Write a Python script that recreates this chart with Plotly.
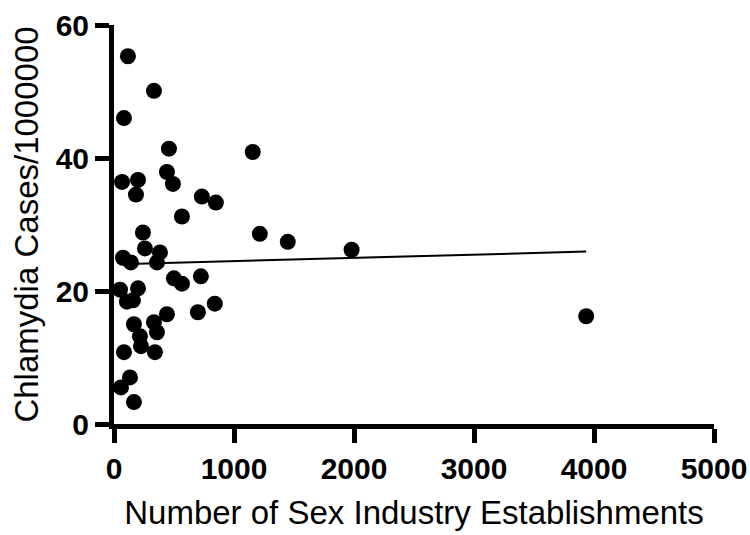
import plotly.graph_objects as go

# Number of sex industry establishments (x) and chlamydia cases per 1,000,000 (y)
establishments = [116, 333, 83, 458, 1156, 67, 200, 183, 441, 491, 732, 849, 566, 241,
                  1215, 1448, 258, 383, 75, 141, 358, 1980, 499, 566, 724, 50, 200, 108,
                  158, 441, 699, 840, 166, 333, 216, 358, 225, 83, 341, 133, 58, 166, 3935]
chlamydia = [55.3, 50.1, 46.0, 41.4, 40.9, 36.4, 36.7, 34.5, 37.9, 36.1, 34.2, 33.3, 31.2, 28.8,
             28.6, 27.4, 26.4, 25.8, 25.0, 24.3, 24.3, 26.2, 21.9, 21.1, 22.2, 20.2, 20.4, 18.4,
             18.6, 16.5, 16.8, 18.1, 15.0, 15.3, 13.2, 13.8, 11.7, 10.8, 10.8, 7.0, 5.5, 3.3, 16.2]

# Linear fit shown in the chart
fit_intercept = 24.0
fit_slope = 0.00049

x_ticks = [0, 1000, 2000, 3000, 4000, 5000]
y_ticks = [0, 20, 40, 60]

fit_x = [min(establishments), max(establishments)]
fit_y = [fit_intercept + fit_slope * v for v in fit_x]

fig = go.Figure()
fig.add_trace(go.Scatter(x=fit_x, y=fit_y, mode="lines",
                         line=dict(color="black", width=2), hoverinfo="skip"))
fig.add_trace(go.Scatter(x=establishments, y=chlamydia, mode="markers",
                         marker=dict(color="black", size=16, line=dict(width=0))))

tickfont = dict(family="Liberation Sans, Arial, sans-serif", size=30, color="black", weight="bold")
titlefont = dict(family="Liberation Sans, Arial, sans-serif", size=33, color="black")

fig.update_layout(
    width=750, height=535,
    margin=dict(l=114, r=36, t=25, b=111),
    paper_bgcolor="white", plot_bgcolor="white",
    showlegend=False,
    xaxis=dict(range=[0, 5000], tickvals=x_ticks, ticktext=[str(v) for v in x_ticks],
               showline=True, linecolor="black", linewidth=5, automargin=False,
               ticks="outside", ticklen=14, tickwidth=5, tickcolor="black",
               showgrid=False, zeroline=False, tickfont=tickfont,
               title=dict(text="Number of Sex Industry Establishments", font=titlefont, standoff=18)),
    yaxis=dict(range=[0, 60], tickvals=y_ticks, ticktext=[str(v) for v in y_ticks],
               showline=True, linecolor="black", linewidth=5, automargin=False,
               ticks="outside", ticklen=14, tickwidth=5, tickcolor="black",
               showgrid=False, zeroline=False, tickfont=tickfont,
               title=dict(text="Chlamydia Cases/1000000", font=titlefont, standoff=9)),
)

fig.write_html("out.html")
